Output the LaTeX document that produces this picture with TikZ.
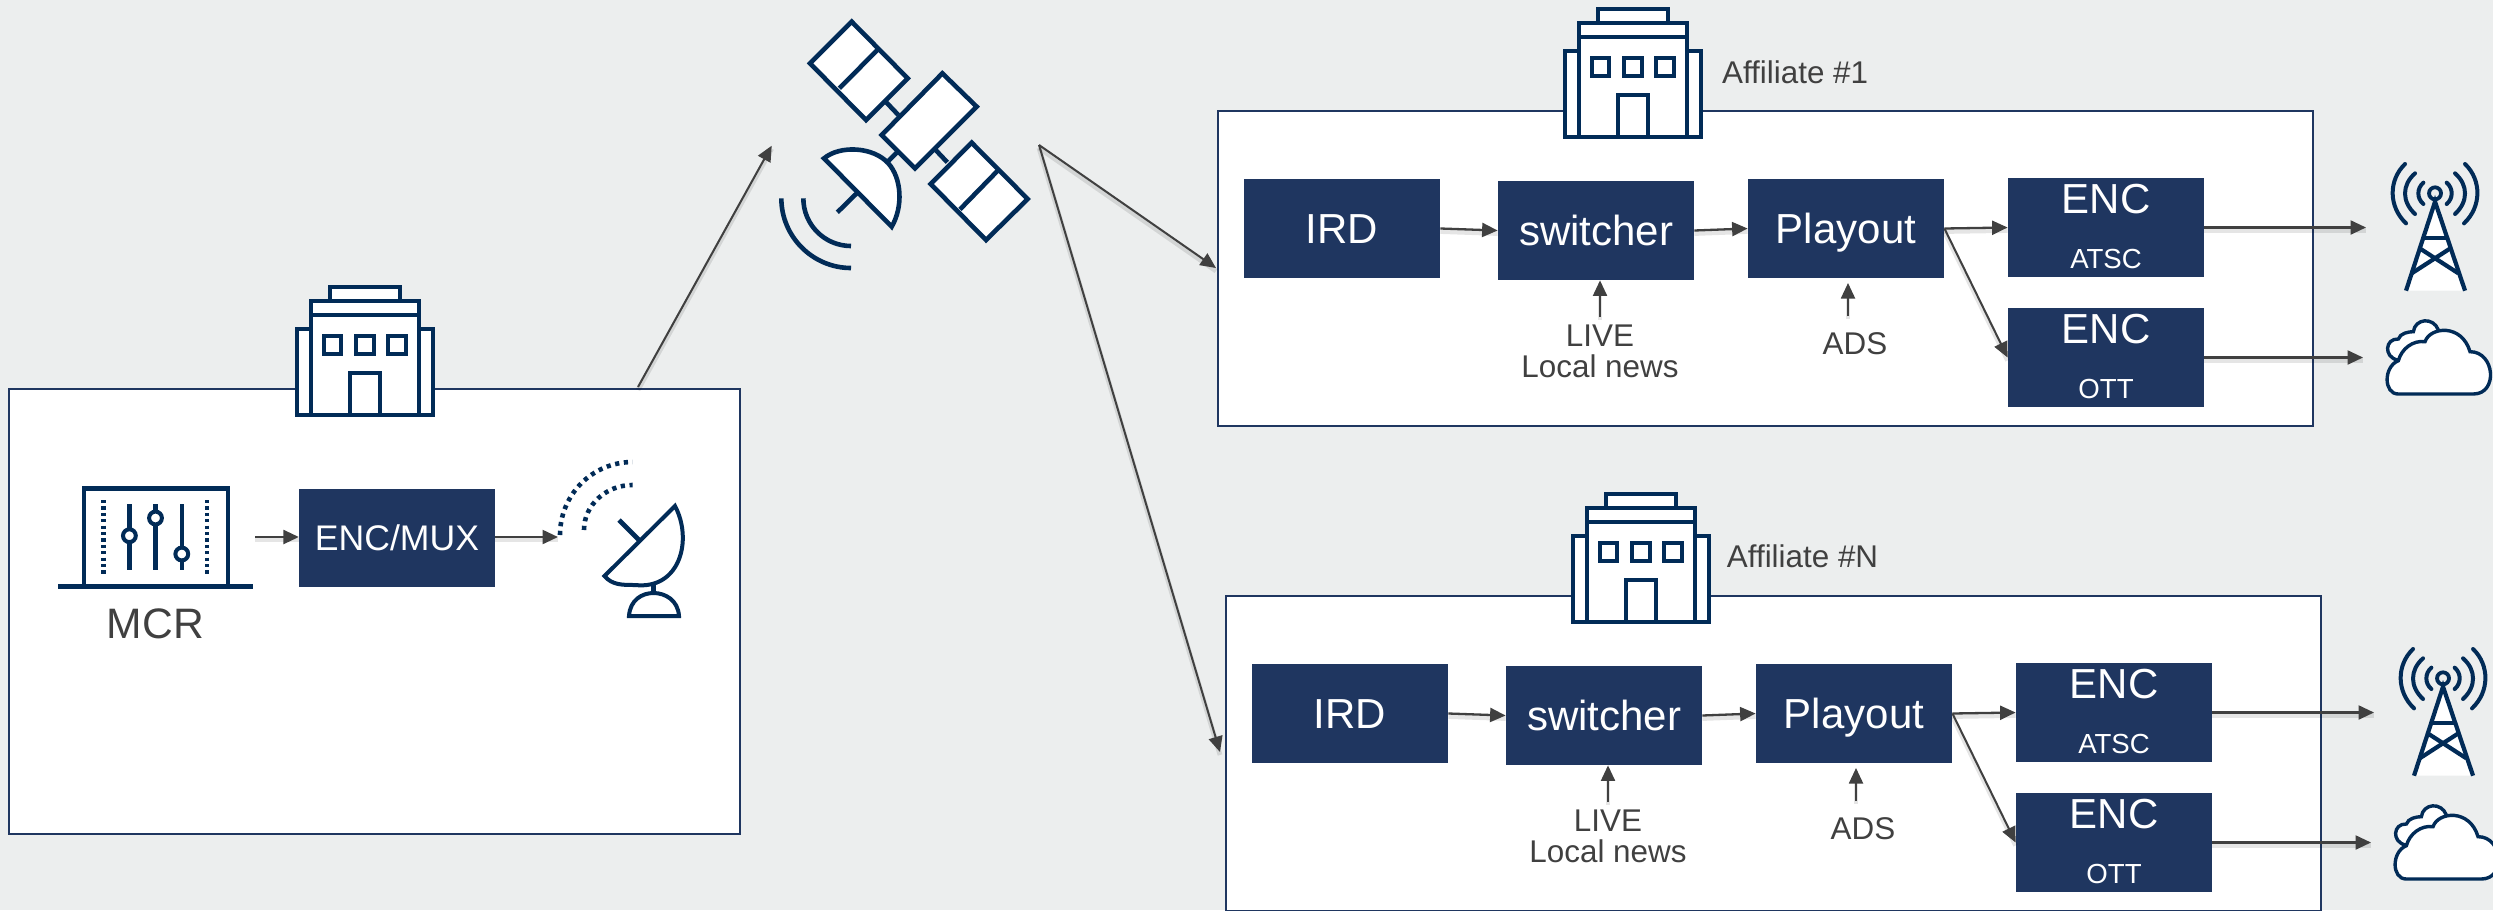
\documentclass[tikz,border=0pt]{standalone}
\usepackage{fontspec}
\setmainfont{Liberation Sans}
\usetikzlibrary{arrows.meta}
\definecolor{bgc}{HTML}{ECEEEE}
\definecolor{navy}{HTML}{1F3660}
\definecolor{icon}{HTML}{012B57}
\definecolor{txt}{HTML}{404040}
\newcommand\fsz[1]{\fontsize{#1}{#1}\selectfont}
\tikzset{
  panel/.style={draw=navy,fill=white,line width=1pt,inner sep=0pt},
  boxnode/.style={fill=navy,text=white,inner sep=0pt,minimum width=98pt,minimum height=49.5pt,font=\fsz{21},text height=15pt,text depth=0pt},
  enctext/.style={text=white,inner sep=0pt,font=\fsz{21}},
  subtext/.style={text=white,inner sep=0pt,font=\fsz{13.8}},
  lab/.style={text=txt,inner sep=0pt,font=\fsz{15.7}},
  softshadow/.style={preaction={draw=black,draw opacity=.10,line width=2.4pt,-,transform canvas={yshift=-1.5pt}}},
  conn/.style={softshadow,draw=txt,line width=1.15pt,-{Triangle[length=7.75pt,width=7pt]}},
  thin conn/.style={softshadow,draw=txt,line width=1pt,-{Triangle[length=7.75pt,width=7pt]}},
  ic/.style={draw=icon,line width=2.3pt,line join=miter},
  icw/.style={ic,fill=white},
  zoomunits/.style={x=0.16667pt,y=-0.16667pt},
}
\newcommand\building[2]{%
  \begin{scope}[shift={(#1,#2)}]
    \draw[icw] (2,44) rectangle (138,130);
    \draw[icw] (35,2) rectangle (105,16);
    \draw[icw] (16,16) rectangle (124,130);
    \draw[ic] (16,30) -- (124,30);
    \draw[ic] (29,51) rectangle (46,69);
    \draw[ic] (61,51) rectangle (79,69);
    \draw[ic] (93,51) rectangle (111,69);
    \draw[ic] (55,130) -- (55,88) -- (85,88) -- (85,130);
  \end{scope}}
\newcommand\tower{%
  \begin{scope}[shift={(2150,140)},zoomunits]
    \fill[white] (855,185) -- (768,452) -- (945,452) -- cycle;
    \draw[ic,line width=2pt,line cap=round] (765,72) .. controls (715,120) and (715,200) .. (768,250);
    \draw[ic,line width=2pt,line cap=round] (795,100) .. controls (755,135) and (755,185) .. (795,222);
    \draw[ic,line width=2pt,line cap=round] (820,128) .. controls (800,145) and (800,175) .. (820,192);
    \draw[ic,line width=2pt,line cap=round] (945,72) .. controls (995,120) and (995,200) .. (942,250);
    \draw[ic,line width=2pt,line cap=round] (915,100) .. controls (955,135) and (955,185) .. (915,222);
    \draw[ic,line width=2pt,line cap=round] (890,128) .. controls (910,145) and (910,175) .. (890,192);
    \draw[ic,line width=1.9pt] (855,160) circle (3pt);
    \draw[ic,line width=2.1pt] (768,452) -- (855,185) -- (945,452);
    \draw[ic,line width=2.1pt] (820,293) -- (892,293);
    \draw[ic,line width=2.1pt] (809,325) -- (925,400);
    \draw[ic,line width=2.1pt] (901,325) -- (785,400);
  \end{scope}}
\newcommand\cloudicon{%
  \begin{scope}[shift={(2150,140)},zoomunits]
    \draw[ic,line width=1.7pt,fill=white] (742,660) .. controls (700,650) and (705,595) .. (745,597) .. controls (750,580) and (775,575) .. (790,575) .. controls (795,535) and (850,530) .. (865,570) -- (825,640) -- cycle;
    \draw[ic,line width=1.7pt,fill=white] (745,762) .. controls (700,762) and (700,680) .. (745,662) .. controls (755,625) and (790,600) .. (825,605) .. controls (840,560) and (935,550) .. (960,635) .. controls (1035,635) and (1045,762) .. (970,762) -- cycle;
  \end{scope}}
\newcommand\affiliate[6]{% prefix, dx, dy, label text, label x, label y
  \begin{scope}[shift={(#2,#3)},name prefix=#1-]
    \node[panel,minimum width=547.5pt,minimum height=157.5pt] (panel) at (1765.5,268.5) {};
    \building{1563}{7}
    \node[lab,anchor=west] (name) at (#5,#6) {#4};
    \node[boxnode] (ird) at (1342,228.5) {IRD};
    \node[boxnode] (sw) at (1596,230.5) {switcher};
    \node[boxnode] (play) at (1846,228.5) {Playout};
    \node[boxnode] (enca) at (2106,227.5) {};
    \node[enctext] (encat) at (2106,199) {ENC};
    \node[subtext] (encas) at (2106,259) {ATSC};
    \node[boxnode] (encb) at (2106,357.5) {};
    \node[enctext] (encbt) at (2106,329) {ENC};
    \node[subtext] (encbs) at (2106,389) {OTT};
    \node[lab,anchor=north,align=center,inner ysep=3.5pt] (live) at (1600,317) {LIVE\\Local news};
    \node[lab] (ads) at (1855,344) {ADS};
    \coordinate (adsfrom) at (1848,316);
    \coordinate (adsto) at (1848,283);
    \coordinate (out) at (2366,227.5);
    \coordinate (cld) at (2363,357.5);
    \draw[conn] (ird.east) -- (sw.west);
    \draw[conn] (sw.east) -- (play.west);
    \draw[conn] (play.east) -- (enca.west);
    \draw[thin conn] (play.east) -- (encb.west);
    \draw[thin conn] (live.north) -- (live.north |- sw.south);
    \draw[thin conn] (adsfrom) -- (adsto);
    \draw[conn] (enca.east) -- (out);
    \draw[conn] (encb.east) -- (cld);
    \tower
    \cloudicon
  \end{scope}}
\begin{document}
\begin{tikzpicture}[x=0.5pt,y=-0.5pt]
  \fill[bgc] (0,0) rectangle (2493,910);
  \useasboundingbox (0,0) rectangle (2493,910);
  % headquarters
  \node[panel,minimum width=365.65pt,minimum height=222.5pt] (mcr) at (374.4,611.5) {};
  \building{295}{285}
  % MCR desk icon
  \draw[ic] (84,586) -- (84,488.5) -- (228,488.5) -- (228,586);
  \draw[ic] (58,586.7) -- (253,586.7);
  \draw[ic,dash pattern=on 1.6pt off 1.6pt] (103.7,500) -- (103.7,575);
  \draw[ic,dash pattern=on 1.6pt off 1.6pt] (207,500) -- (207,575);
  \draw[ic] (129.4,504) -- (129.4,570);
  \draw[ic] (155.5,504) -- (155.5,570);
  \draw[ic] (181.8,504) -- (181.8,570);
  \draw[icw,line width=2pt] (129.4,535.7) circle (3.2pt);
  \draw[icw,line width=2pt] (155.5,518) circle (3.2pt);
  \draw[icw,line width=2pt] (181.8,554) circle (3.2pt);
  \node[lab,font=\fsz{21.3}] (mcrname) at (155.5,624) {MCR};
  \node[boxnode,font=\fsz{17.8},minimum width=97.75pt,minimum height=49pt,text height=12.7pt] (mux) at (397,538) {ENC/MUX};
  \coordinate (mcrout) at (255,537);
  \coordinate (dishin) at (558,537);
  \draw[conn] (mcrout) -- (mcrout -| mux.west);
  \draw[conn] (mux.east |- dishin) -- (dishin);
  % ground dish
  \draw[ic,dash pattern=on 2.1pt off 2.3pt] (560,535) .. controls (560,495) and (592,462) .. (632.6,462);
  \draw[ic,dash pattern=on 2.1pt off 2.3pt] (584,530) .. controls (584,505) and (606,485) .. (632.6,485);
  \draw[ic] (619,520) -- (639,540);
  \draw[ic] (653.5,583) -- (653.5,593);
  \draw[icw,line width=2pt] (675,506) .. controls (693,540) and (680,590) .. (635,585) .. controls (622,585) and (612,585) .. (604.5,576) -- cycle;
  \draw[icw,line width=2pt] (629,616) .. controls (630,600) and (642,593) .. (653.5,593) .. controls (665,593) and (678,600) .. (679,616) -- cycle;
  % satellite
  \begin{scope}[shift={(740,0)},zoomunits]
    \draw[ic] (437,305) -- (475,345);
    \draw[ic] (587,450) -- (622,487);
    \draw[ic] (440,488) -- (470,458);
    \draw[icw] (335,65) -- (503,235) -- (378,360) -- (210,190) -- cycle;
    \draw[ic] (412,150) -- (298,265);
    \draw[icw] (607,220) -- (710,320) -- (525,505) -- (425,405) -- cycle;
    \draw[icw] (695,428) -- (863,597) -- (738,720) -- (572,552) -- cycle;
    \draw[ic] (775,510) -- (660,628);
    \draw[ic] (350,580) -- (292,637);
    \draw[icw] (252,475) .. controls (300,435) and (400,440) .. (445,490) .. controls (485,535) and (490,620) .. (455,680) -- cycle;
    \draw[ic] (124,595) .. controls (124,710) and (218,804) .. (333,804);
    \draw[ic] (190,595) .. controls (190,674) and (254,738) .. (333,738);
  \end{scope}
  % links through the satellite
  \coordinate (uplink) at (638,387);
  \coordinate (satin) at (771.7,145.7);
  \coordinate (satout) at (1039,145);
  \coordinate (tipa) at (1216,268);
  \coordinate (tipn) at (1220,752);
  \draw[thin conn] (uplink) -- (satin);
  \affiliate{a}{0}{0}{Affiliate \#1}{1721.7}{72}
  \affiliate{n}{8}{485}{Affiliate \#N}{1718.5}{71.7}
  \draw[thin conn] (satout) -- (tipa);
  \draw[thin conn] (satout) -- (tipn);
\end{tikzpicture}
\end{document}
